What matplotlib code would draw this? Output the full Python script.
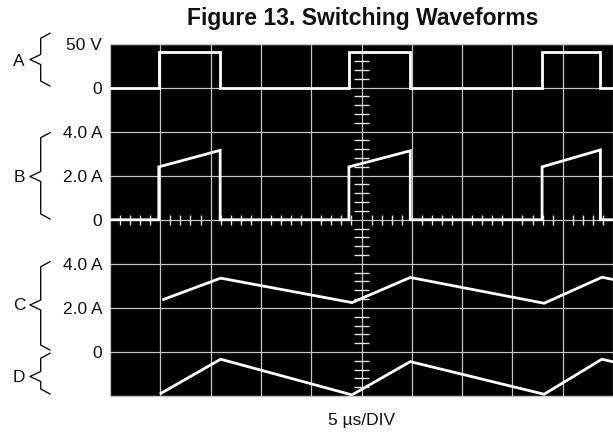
import numpy as np
import matplotlib
matplotlib.use("Agg")
import matplotlib.pyplot as plt
from matplotlib.lines import Line2D

plt.rcParams['font.family'] = ['Liberation Sans', 'DejaVu Sans']

# ---------------- data (time in microseconds, 5 us/div) ----------------
t_rise = [4.85, 23.75, 42.95]          # switch turn-on instants
t_fall = [10.95, 29.85, 48.75]         # switch turn-off instants
a_high = 40.0                           # trace A high level (V)
b_start = [2.40, 2.40, 2.40]            # trace B current at turn-on (A)
b_end = [3.15, 3.13, 3.17]              # trace B current at turn-off (A)
c_t = [5.2, 11.0, 24.05, 29.85, 43.15, 48.9, 50.0]
c_i = [2.36, 3.35, 2.24, 3.38, 2.21, 3.39, 3.29]
d_t = [4.95, 11.0, 24.05, 29.85, 43.15, 48.9, 50.0]
d_i = [-1.91, -0.33, -1.95, -0.44, -1.92, -0.33, -0.45]

ytick_vals = [8, 7, 6, 5, 4, 3, 2, 1]
ytick_labels = ['50 V', '0', '4.0 A', '2.0 A', '0', '4.0 A', '2.0 A', '0']
trace_names = ['A', 'B', 'C', 'D']
us_per_div = 5.0
# channel scaling: (zero position in div, units per div)
chan_a = (7.0, 50.0)
chan_b = (4.0, 2.0)
chan_c = (1.0, 2.0)
chan_d = (1.0, 2.0)

W, H = 613, 438
fig = plt.figure(figsize=(W / 100, H / 100), dpi=100)
fig.patch.set_facecolor('white')

left, right, top, bottom = 110, 613, 43.5, 396
ax = fig.add_axes([left / W, (H - bottom) / H, (right - left) / W, (bottom - top) / H])
ax.set_facecolor('black')
ax.set_xlim(0, 10)
ax.set_ylim(0, 8)

grid_col = '#c4c4c4'
ax.set_xticks(np.arange(0, 11))
ax.set_xticklabels([])
ax.set_yticks(ytick_vals)
ax.set_yticklabels(ytick_labels, fontsize=12.5, color='#111111')
ax.tick_params(axis='both', length=0)
ax.tick_params(axis='y', pad=5.5)
ax.grid(True, color=grid_col, lw=0.9)
ax.set_axisbelow(True)
for s in ['left', 'right']:
    ax.spines[s].set_visible(False)
for s in ['top', 'bottom']:
    ax.spines[s].set_color(grid_col)
    ax.spines[s].set_linewidth(1.0)

# centre graticule minor ticks
tick_col = '#e6e6e6'
ys = np.arange(0, 8.001, 0.2)
ys = ys[np.abs(ys - np.round(ys)) > 1e-6]
ax.hlines(ys, 5 - 0.14, 5 + 0.14, colors=tick_col, lw=1.0, zorder=1.5)
xs = np.arange(0, 10.001, 0.2)
xs = xs[np.abs(xs - np.round(xs)) > 1e-6]
ax.vlines(xs, 4 - 0.11, 4 + 0.11, colors=tick_col, lw=1.0, zorder=1.5)


def to_div(vals, chan):
    z, s = chan
    return z + np.asarray(vals) / s


t_end = 10 * us_per_div

# trace A (square wave)
ta, va = [0.0], [0.0]
for r, f in zip(t_rise, t_fall):
    ta += [r, r, f, f]
    va += [0.0, a_high, a_high, 0.0]
ta.append(t_end); va.append(0.0)

# trace B (switch current)
tb, vb = [0.0], [0.0]
for r, f, s0, s1 in zip(t_rise, t_fall, b_start, b_end):
    tb += [r, r, f, f]
    vb += [0.0, s0, s1, 0.0]
tb.append(t_end); vb.append(0.0)

lk = dict(color='white', lw=2.0, solid_joinstyle='miter', solid_capstyle='butt', zorder=3, clip_on=True)
ax.plot(np.array(ta) / us_per_div, to_div(va, chan_a), **lk)
ax.plot(np.array(tb) / us_per_div, to_div(vb, chan_b), **lk)
ax.plot(np.array(c_t) / us_per_div, to_div(c_i, chan_c), **lk)
ax.plot(np.array(d_t) / us_per_div, to_div(d_i, chan_d), **lk)

# title and x label
fig.text(363 / W, 1 - 18.5 / H, 'Figure 13. Switching Waveforms', ha='center', va='center',
         fontsize=16.5, fontweight='bold', color='#111111')
fig.text(361.5 / W, 1 - 420 / H, '5 \u00b5s/DIV', ha='center', va='center', fontsize=12.5, color='#111111')


# braces on the left
def brace(y0, y1, ytip, x_end=50, x_spine=40.7, x_tip=30):
    d = 5.0
    ym = ytip
    px = [x_end, x_spine, x_spine, x_tip, x_spine, x_spine, x_end]
    py = [y0, y0 + d, ym - d, ym, ym + d, y1 - d, y1]
    fx = [p / W for p in px]
    fy = [1 - p / H for p in py]
    fig.add_artist(Line2D(fx, fy, color='#111111', lw=1.0, transform=fig.transFigure))


braces = [(33.3, 86, 59.5, 61), (132.7, 219, 176.5, 177), (261.7, 350, 305, 305), (353.3, 394, 376.5, 377)]
for name, (y0, y1, yt, yl) in zip(trace_names, braces):
    brace(y0, y1, yt)
    fig.text(19 / W, 1 - yl / H, name, ha='center', va='center', fontsize=12.5, color='#111111')

fig.savefig('out.png', dpi=100, facecolor='white')
